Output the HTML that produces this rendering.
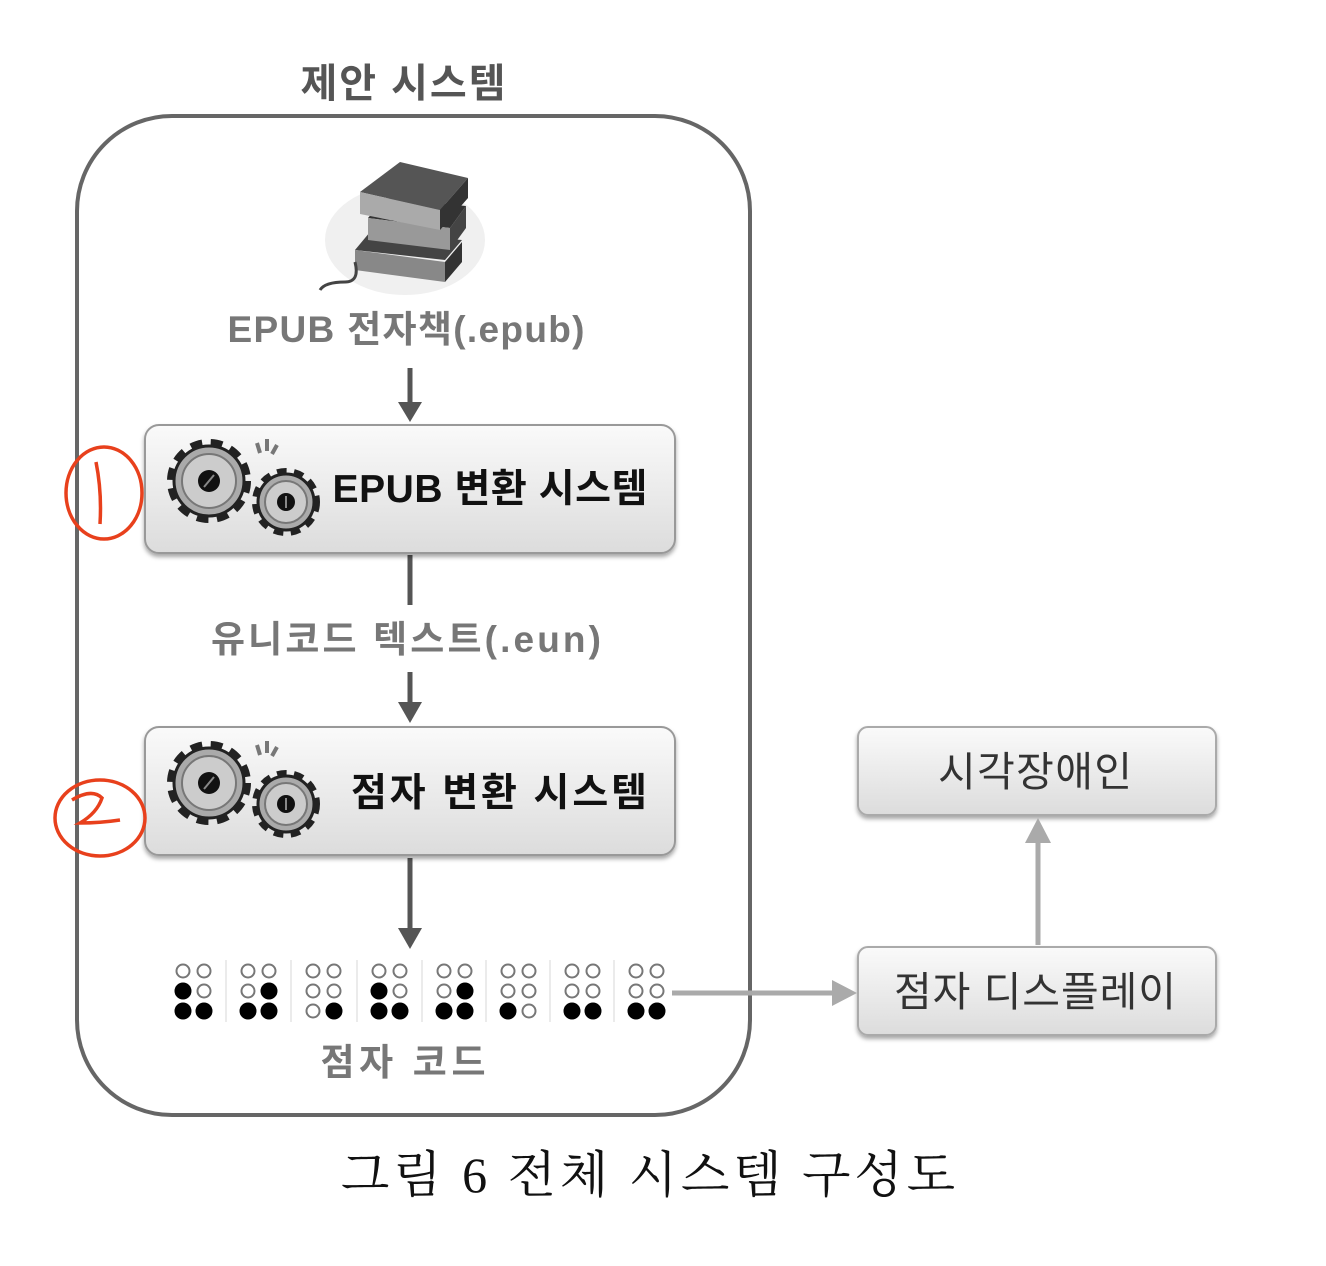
<!DOCTYPE html>
<html><head><meta charset="utf-8"><style>
html,body{margin:0;padding:0;background:#fff;width:1326px;height:1266px;overflow:hidden}
svg{display:block}
text{font-family:"Liberation Sans","Noto Sans CJK KR",sans-serif}
</style></head><body>
<svg width="1326" height="1266" viewBox="0 0 1326 1266" xmlns="http://www.w3.org/2000/svg">
<defs>
<linearGradient id="bx" x1="0" y1="0" x2="0" y2="1">
<stop offset="0" stop-color="#fafafa"/><stop offset="1" stop-color="#dcdcdc"/></linearGradient>
<filter id="sh" x="-5%" y="-10%" width="110%" height="130%"><feDropShadow dx="0" dy="3" stdDeviation="2" flood-color="#000" flood-opacity="0.35"/></filter>
<g id="gears">
<circle cx="0" cy="0" r="36" fill="none" stroke="#222" stroke-width="12" stroke-dasharray="11 8"/>
<circle cx="0" cy="0" r="35" fill="#aaa" stroke="#222" stroke-width="3"/>
<circle cx="0" cy="0" r="27" fill="#ccc" stroke="#777" stroke-width="2"/>
<circle cx="0" cy="0" r="11" fill="#111"/>
<line x1="-5" y1="6" x2="5" y2="-6" stroke="#888" stroke-width="2"/>
<circle cx="77" cy="21" r="29" fill="none" stroke="#222" stroke-width="10" stroke-dasharray="9 7"/>
<circle cx="77" cy="21" r="28" fill="#aaa" stroke="#222" stroke-width="3"/>
<circle cx="77" cy="21" r="21" fill="#ccc" stroke="#777" stroke-width="2"/>
<circle cx="77" cy="21" r="9" fill="#111"/>
<line x1="77" y1="15" x2="77" y2="27" stroke="#888" stroke-width="2"/>
<path d="M48 -38 l3 10 M58 -42 l0 12 M68 -36 l-5 9" stroke="#777" stroke-width="4"/>
</g>
</defs>

<text x="403" y="97" font-size="40" font-weight="bold" fill="#555" text-anchor="middle" textLength="205">제안 시스템</text>
<rect x="77" y="116" width="673" height="999" rx="95" fill="none" stroke="#666" stroke-width="4"/>

<g>
<ellipse cx="405" cy="240" rx="80" ry="55" fill="#f0f0f0"/>
<path d="M355 250 L445 260 L462 240 L370 232 Z" fill="#444"/>
<path d="M355 250 L445 262 L445 282 L355 270 Z" fill="#888"/>
<path d="M445 262 L462 242 L462 262 L445 282 Z" fill="#333"/>
<path d="M368 218 L450 228 L466 206 L385 198 Z" fill="#333"/>
<path d="M368 218 L450 228 L450 250 L368 240 Z" fill="#999"/>
<path d="M450 228 L466 206 L466 228 L450 250 Z" fill="#444"/>
<path d="M360 192 L440 210 L468 178 L400 162 Z" fill="#555"/>
<path d="M360 192 L440 210 L440 230 L360 214 Z" fill="#aaa"/>
<path d="M440 210 L468 178 L468 198 L440 230 Z" fill="#333"/>
<path d="M355 262 q5 20 -10 20 q-20 0 -25 8" fill="none" stroke="#444" stroke-width="3"/>
</g>

<text x="406" y="342" font-size="37" font-weight="bold" fill="#777" text-anchor="middle" textLength="357">EPUB 전자책(.epub)</text>

<g stroke="#555" stroke-width="5" fill="#555">
<line x1="410" y1="368" x2="410" y2="412"/><path d="M398 402 L410 422 L422 402 Z" stroke="none"/>
<line x1="410" y1="555" x2="410" y2="605"/>
<line x1="410" y1="672" x2="410" y2="712"/><path d="M398 702 L410 723 L422 702 Z" stroke="none"/>
<line x1="410" y1="858" x2="410" y2="938"/><path d="M398 928 L410 949 L422 928 Z" stroke="none"/>
</g>

<rect x="145" y="425" width="530" height="128" rx="14" fill="url(#bx)" stroke="#999" stroke-width="2" filter="url(#sh)"/>
<use href="#gears" x="209" y="481"/>
<text x="490" y="502" font-size="39" font-weight="bold" fill="#111" text-anchor="middle" textLength="315">EPUB 변환 시스템</text>

<text x="406" y="652" font-size="37" font-weight="bold" fill="#777" text-anchor="middle" textLength="390">유니코드 텍스트(.eun)</text>

<rect x="145" y="727" width="530" height="128" rx="14" fill="url(#bx)" stroke="#999" stroke-width="2" filter="url(#sh)"/>
<use href="#gears" x="209" y="783"/>
<text x="499" y="806" font-size="39" font-weight="bold" fill="#111" text-anchor="middle" textLength="296">점자 변환 시스템</text>

<text x="403" y="1075" font-size="37" font-weight="bold" fill="#777" text-anchor="middle" textLength="165">점자 코드</text>

<rect x="858" y="727" width="358" height="88" rx="10" fill="url(#bx)" stroke="#aaa" stroke-width="2" filter="url(#sh)"/>
<text x="1035" y="786" font-size="41" fill="#333" text-anchor="middle" textLength="194">시각장애인</text>
<rect x="858" y="947" width="358" height="88" rx="10" fill="url(#bx)" stroke="#aaa" stroke-width="2" filter="url(#sh)"/>
<text x="1035" y="1006" font-size="41" fill="#333" text-anchor="middle" textLength="282">점자 디스플레이</text>
<g fill="#aaa" stroke="#aaa" stroke-width="5">
<line x1="672" y1="993" x2="835" y2="993"/><path d="M832 980 L857 993 L832 1006 Z" stroke="none"/>
<line x1="1038" y1="945" x2="1038" y2="840"/><path d="M1025 843 L1038 818 L1051 843 Z" stroke="none"/>
</g>

<g fill="none" stroke="#e8401c" stroke-width="3.5">
<ellipse cx="104" cy="493" rx="38" ry="46"/>
<path d="M96 462 q6 30 4 62"/>
<ellipse cx="100" cy="818" rx="45" ry="38"/>
<path d="M72 800 q20 -12 30 -2 q-5 15 -22 25 q20 0 40 -3"/>
</g>

<text x="650" y="1192" font-size="50" fill="#111" text-anchor="middle" style="font-family:'Liberation Serif','Noto Serif CJK SC',serif" letter-spacing="4">그림 6 전체 시스템 구성도</text>

<g id="braille"></g>
</svg>
<script>
var p=["00,10,11","00,01,11","00,00,01","00,10,11","00,01,11","00,00,10","00,00,11","00,00,11"];
var xs=[183,248,313,379,444,508,572,636],ys=[971,991,1011],s="";
p.forEach(function(c,i){var r=c.split(",");for(var a=0;a<3;a++)for(var b=0;b<2;b++){var f=r[a][b]=="1";s+='<circle cx="'+(xs[i]+b*21)+'" cy="'+ys[a]+'" r="'+(f?7.5:6.5)+'" fill="'+(f?"#000":"#fff")+'" stroke="'+(f?"#000":"#777")+'" stroke-width="2"/>';}
if(i>0)s+='<line x1="'+(xs[i]-22)+'" y1="960" x2="'+(xs[i]-22)+'" y2="1022" stroke="#e4e4e4" stroke-width="1.5"/>';});
document.getElementById("braille").innerHTML=s;
</script>
</body></html>
